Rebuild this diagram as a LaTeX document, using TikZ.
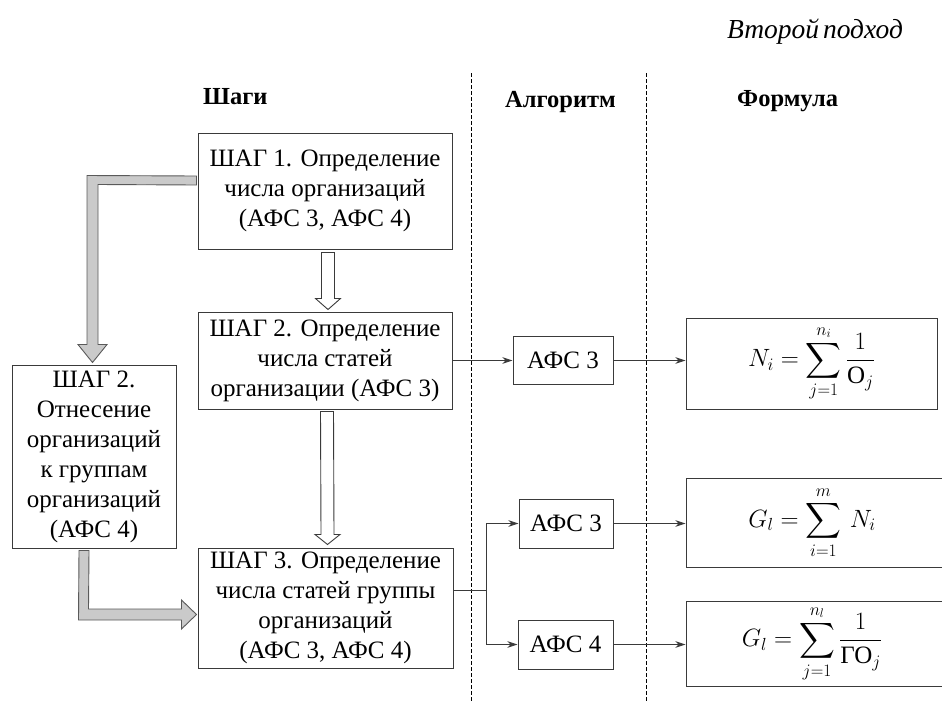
\RequirePackage{fix-cm}
\documentclass[tikz,border=0pt]{standalone}
\usepackage{amsmath}
\usepackage[no-math]{fontspec}
\setmainfont{Liberation Serif}
\usetikzlibrary{arrows.meta,calc}
\definecolor{edge}{HTML}{3A3A3A}
\definecolor{grayfill}{HTML}{CACACA}
\definecolor{grayedge}{HTML}{5A5A5A}
\tikzset{
  box/.style={draw=edge, line width=1pt, inner sep=0pt, align=center,
    font=\fontsize{25}{30}\selectfont},
  head/.style={font=\bfseries\fontsize{24.5}{28}\selectfont, anchor=base west, inner sep=0pt},
  conn/.style={draw=edge, line width=0.9pt, -{Stealth[length=10pt,width=6.5pt,inset=3pt]}},
  hollow/.style={draw=edge, fill=white, line width=0.9pt, line join=miter},
  grayarrow/.style={draw=grayedge, fill=grayfill, line width=0.9pt, line join=miter},
  divider/.style={draw=black, line width=0.8pt, dash pattern=on 3.5pt off 2.5pt}
}
\begin{document}
\begin{tikzpicture}[x=1pt,y=-1pt]
\useasboundingbox (0,0) rectangle (942,702);

% title and headers
\node[anchor=base west, inner sep=0pt, font=\itshape\fontsize{27.5}{31}\selectfont] (title) at (727,38) {Второй\hspace{-3pt} подход};
\node[head] (hsteps) at (203,104) {Шаги};
\node[head] (halg) at (505,107) {Алгоритм};
\node[head] (hform) at (737,106) {Формула};

% dividers
\draw[divider] (471,73) -- (471,702);
\draw[divider] (646,73) -- (646,702);

% step boxes
\node[box, minimum width=254pt, minimum height=116pt] (s1) at (325,191)
  {ШАГ 1. Определение\\числа организаций\\(АФС 3, АФС 4)};
\node[box, minimum width=254pt, minimum height=97pt] (s2) at (325,360.5)
  {ШАГ 2. Определение\\числа статей\\организации (АФС 3)};
\node[box, minimum width=255pt, minimum height=120pt] (s3) at (325.5,608)
  {ШАГ 3. Определение\\числа статей группы\\организаций\\(АФС 3, АФС 4)};
\node[box, minimum width=164pt, minimum height=183pt] (left) at (94,456.5)
  {ШАГ 2.\\Отнесение\\организаций\\к группам\\организаций\\(АФС 4)};

% algorithm boxes
\node[box, minimum width=100pt, minimum height=48pt] (a1) at (563,360.5) {АФС 3};
\node[box, minimum width=94pt, minimum height=49pt] (a2) at (566,523.5) {АФС 3};
\node[box, minimum width=95pt, minimum height=49pt] (a3) at (565.5,644.5) {АФС 4};

% formula boxes
\node[box, minimum width=251pt, minimum height=91pt] (f1) at (811.5,363.5)
  {$\displaystyle N_i=\sum_{j=1}^{n_i}\frac{1}{\text{О}_j}$};
\begin{scope}
\clip (0,0) rectangle (942,702);
\node[box, minimum width=264pt, minimum height=89pt] (f2) at (818,522.5)
  {\hspace*{-12pt}$\displaystyle G_l=\sum_{i=1}^{m}\,N_i$};
\node[box, minimum width=264pt, minimum height=85pt] (f3) at (818,643.5)
  {\hspace*{-12pt}$\displaystyle G_l=\sum_{j=1}^{n_l}\frac{1}{\text{ГО}_j}$};
\end{scope}

% hollow arrows (step 1 -> step 2 -> step 3)
\draw[hollow]
  ($(s1.south)+(-3.5,3)$) -- ($(s2.north)+(-3.5,-13)$) -- ($(s2.north)+(-9.5,-13)$)
  -- ($(s2.north)+(3,-2)$) -- ($(s2.north)+(15.5,-13)$) -- ($(s2.north)+(9.5,-13)$)
  -- ($(s1.south)+(9.5,3)$) -- cycle;
\draw[hollow]
  ($(s2.south)+(-4.5,2)$) -- ($(s3.north)+(-4.5,-13)$) -- ($(s3.north)+(-10.5,-13)$)
  -- ($(s3.north)+(2,-3)$) -- ($(s3.north)+(14.5,-13)$) -- ($(s3.north)+(8.5,-13)$)
  -- ($(s2.south)+(8.5,2)$) -- cycle;

% gray L arrows
\draw[grayarrow]
  ($(s1.west)+(-1,-15)$) -- ($(left.north)+(-7,-189)$) -- ($(left.north)+(-7,-20)$)
  -- ($(left.north)+(-16,-20)$) -- ($(left.north)+(-1.5,-2)$) -- ($(left.north)+(13,-20)$)
  -- ($(left.north)+(4,-20)$) -- ($(left.north)+(4,-180)$) -- ($(s1.west)+(-1,-6)$) -- cycle;
\draw[grayarrow]
  ($(left.south)+(-15,2)$) -- ($(s3.west)+(-119,12)$) -- ($(s3.west)+(-16,12)$)
  -- ($(s3.west)+(-16,21)$) -- ($(s3.west)+(-1,6.5)$) -- ($(s3.west)+(-16,-8)$)
  -- ($(s3.west)+(-16,1)$) -- ($(s3.west)+(-109,1)$) -- ($(left.south)+(-5,2)$) -- cycle;

% connectors
\coordinate (j) at (486,590);
\draw[conn] (s2.east |- a1.west) -- (a1.west);
\draw[conn] (a1.east) -- (a1.east -| f1.west);
\draw[draw=edge, line width=0.9pt] (s3.east |- j) -- (j);
\draw[conn] (j) |- (a2.west);
\draw[conn] (j) |- (a3.west);
\draw[conn] (a2.east) -- (a2.east -| f2.west);
\draw[conn] (a3.east) -- (a3.east -| f3.west);
\end{tikzpicture}
\end{document}
